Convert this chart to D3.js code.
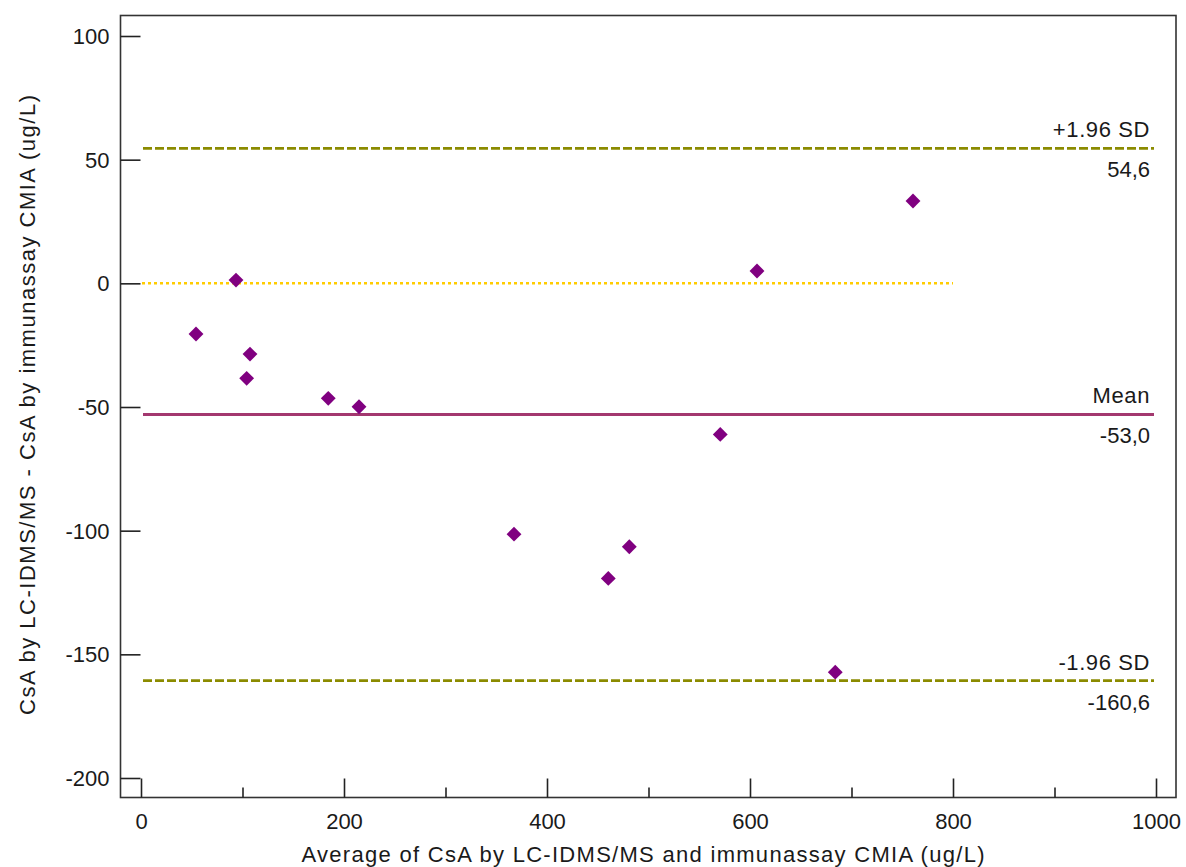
<!DOCTYPE html>
<html><head><meta charset="utf-8">
<script src="https://cdn.jsdelivr.net/npm/d3@7"></script>
<style>body{margin:0;background:#fff}svg{display:block;font-family:"Liberation Sans",Arial,sans-serif}</style>
</head><body><svg id="c" width="1186" height="867"></svg>
<script>
const avgValues = [54.2, 93.6, 107.4, 104.1, 184.5, 214.8, 367.5, 460.4, 481.1, 570.7, 606.9, 684.0, 760.6];
const diffValues = [-20.5, 1.3, -28.6, -38.4, -46.5, -49.9, -101.4, -119.3, -106.5, -61.1, 5.0, -157.2, 33.3];
const xTicks = [0, 200, 400, 600, 800, 1000];
const xMinorTicks = [100, 300, 500, 700, 900];
const yTicks = [100, 50, 0, -50, -100, -150, -200];
const meanValue = -53.0;
const upperLoA = 54.6;
const lowerLoA = -160.6;
const refLines = [
  {name: "+1.96 SD", value: upperLoA, label: "54,6", kind: "loa"},
  {name: "Mean", value: meanValue, label: "-53,0", kind: "mean"},
  {name: "-1.96 SD", value: lowerLoA, label: "-160,6", kind: "loa"}
];
const xTitle = "Average of CsA by LC-IDMS/MS and immunassay CMIA (ug/L)";
const yTitle = "CsA by LC-IDMS/MS - CsA by immunassay CMIA (ug/L)";

const svg = d3.select("#c");
const x = d3.scaleLinear().domain([0, 1000]).range([141, 1156]);
const y = d3.scaleLinear().domain([-200, 100]).range([778, 36]);
const frame = {l: 120.5, t: 15.5, r: 1176, b: 797.5};
const txt = "#1a1a1a";
const fs = "22px";
const fmt = d => String(d);

// frame
svg.append("rect").attr("x", frame.l).attr("y", frame.t)
  .attr("width", frame.r - frame.l).attr("height", frame.b - frame.t)
  .attr("fill", "none").attr("stroke", "#333").attr("stroke-width", 1.6);

// y ticks (inward from left)
const yAxis = d3.axisRight(y).tickValues(yTicks).tickSize(20).tickFormat(fmt);
const ya = svg.append("g").attr("transform", `translate(${frame.l},0)`).call(yAxis);
ya.select(".domain").remove();
ya.selectAll("line").attr("stroke", "#222").attr("stroke-width", 1.6);
ya.selectAll("text").attr("x", -11).attr("text-anchor", "end").attr("fill", txt)
  .style("font-size", fs).style("font-family", "Liberation Sans, Arial, sans-serif").attr("dy", "0.34em");

// x ticks (inward from bottom)
const xAxis = d3.axisTop(x).tickValues(xTicks).tickSize(19).tickFormat(fmt);
const xa = svg.append("g").attr("transform", `translate(0,${frame.b})`).call(xAxis);
xa.select(".domain").remove();
xa.selectAll("line").attr("stroke", "#222").attr("stroke-width", 1.6);
xa.selectAll("text").attr("y", 31).attr("dy", 0).attr("fill", txt)
  .style("font-size", fs).style("font-family", "Liberation Sans, Arial, sans-serif");
const xm = d3.axisTop(x).tickValues(xMinorTicks).tickSize(10).tickFormat("");
const xma = svg.append("g").attr("transform", `translate(0,${frame.b})`).call(xm);
xma.select(".domain").remove();
xma.selectAll("line").attr("stroke", "#222").attr("stroke-width", 1.6);

// zero line (dotted, gold)
svg.append("line").attr("x1", x(0)+1).attr("x2", x(800)).attr("y1", y(0)).attr("y2", y(0))
  .attr("stroke", "#FFCC00").attr("stroke-width", 2.5).attr("stroke-dasharray", "3,3");

// reference lines
refLines.forEach(r => {
  const yy = y(r.value);
  svg.append("line").attr("x1", x(0)+2).attr("x2", x(1000)-2).attr("y1", yy).attr("y2", yy)
    .attr("stroke", r.kind === "mean" ? "#A3386F" : "#8B8B00")
    .attr("stroke-width", r.kind === "mean" ? 3 : 2.8)
    .attr("stroke-dasharray", r.kind === "mean" ? null : "9,3");
  svg.append("text").attr("x", 1150).attr("y", yy - 11).attr("text-anchor", "end")
    .attr("fill", txt).style("font-size", fs).style("letter-spacing", "0.6px").text(r.name);
  svg.append("text").attr("x", 1150).attr("y", yy + 29).attr("text-anchor", "end")
    .attr("fill", txt).style("font-size", fs).text(r.label);
});

// points
const pts = avgValues.map((v, i) => ({a: v, d: diffValues[i]}));
svg.append("g").selectAll("path").data(pts).join("path")
  .attr("d", d3.symbol().type(d3.symbolSquare).size(110))
  .attr("transform", d => `translate(${x(d.a)},${y(d.d)}) rotate(45)`)
  .attr("fill", "#800080");

// titles
svg.append("text").attr("x", 643).attr("y", 862).attr("text-anchor", "middle")
  .attr("fill", txt).style("font-size", fs)
  .attr("textLength", 683).attr("lengthAdjust", "spacing").text(xTitle);
svg.append("text").attr("transform", "translate(35,405) rotate(-90)").attr("text-anchor", "middle")
  .attr("fill", txt).style("font-size", fs)
  .attr("textLength", 620).attr("lengthAdjust", "spacing").text(yTitle);
</script></body></html>
